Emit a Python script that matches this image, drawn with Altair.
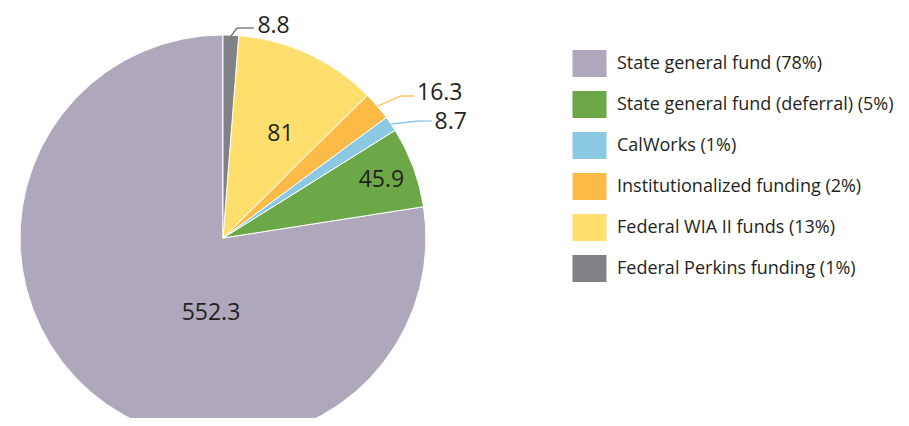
import altair as alt
import pandas as pd

# ---- data ----
categories = ["State general fund", "State general fund (deferral)", "CalWorks",
              "Institutionalized funding", "Federal WIA II funds", "Federal Perkins funding"]
values = [552.3, 45.9, 8.7, 16.3, 81, 8.8]
value_labels = ["552.3", "45.9", "8.7", "16.3", "81", "8.8"]
shares = ["78%", "5%", "1%", "2%", "13%", "1%"]
colors = ["#afa7bb", "#6ca847", "#8bc9e3", "#fcbb47", "#fedf6d", "#818285"]

legend_names = [f"{c} ({s})" for c, s in zip(categories, shares)]
df = pd.DataFrame({
    "name": legend_names,
    "value": values,
    "label": value_labels,
    "rank": list(range(len(values))),
})

FONT = "Open Sans"
TXT = "#231f20"
CX, CY, R = 215, 230, 203

color_scale = alt.Scale(domain=legend_names, range=colors)

base = alt.Chart(df).encode(
    theta=alt.Theta("value:Q", stack=True),
    order=alt.Order("rank:Q", sort="descending"),
    x=alt.value(CX),
    y=alt.value(CY),
)

pie = base.mark_arc(outerRadius=R, stroke="white", strokeWidth=1).encode(
    color=alt.Color(
        "name:N", scale=color_scale, sort=legend_names,
        legend=alt.Legend(
            title=None, orient="none", legendX=568, legendY=42,
            symbolType="M-1.26,-1H1.26V1H-1.26Z", symbolSize=729,
            symbolStrokeWidth=0, symbolOpacity=1,
            labelFont=FONT, labelFontSize=18, labelColor=TXT,
            labelOffset=14, rowPadding=14, labelLimit=400, padding=0,
        ),
    )
)

# per-label placement: (category index, radius, dx, dy, align)
placements = [
    (4, 115, 9, 0, "center"),
    (1, 168, 1, 1, "center"),
    (0, 80, 40, 14, "center"),
    (5, 217, 26, 5, "left"),
    (3, 225, 23, 1, "left"),
    (2, 210, 38, 2, "left"),
]

layers = [pie]
for idx, r, dx, dy, align in placements:
    nm = legend_names[idx]
    layers.append(
        base.transform_calculate(t=f"datum.name == '{nm}' ? datum.label : ''")
        .mark_text(radius=r, dx=dx, dy=dy, align=align, baseline="middle",
                   font=FONT, fontSize=23, color=TXT)
        .encode(text="t:N", detail="name:N")
    )


def leader(pts, color):
    out = []
    for (x1, y1), (x2, y2) in zip(pts[:-1], pts[1:]):
        out.append(
            alt.Chart(alt.Data(values=[{"a": 1}]))
            .mark_rule(color=color, strokeWidth=1.3)
            .encode(x=alt.value(x1), y=alt.value(y1), x2=alt.value(x2), y2=alt.value(y2))
        )
    return out


layers += leader([(223, 28), (229, 20), (246, 20)], "#6d6e71")
layers += leader([(370, 98), (393, 88), (406, 88)], colors[3])
layers += leader([(383, 116), (411, 113), (424, 113)], colors[2])

chart = alt.layer(*layers).properties(
    width=893, height=410, padding=0, autosize=alt.AutoSizeParams(type="none")
).configure_view(stroke=None)

chart.save("out.html", embed_options={"renderer": "svg", "actions": False})
